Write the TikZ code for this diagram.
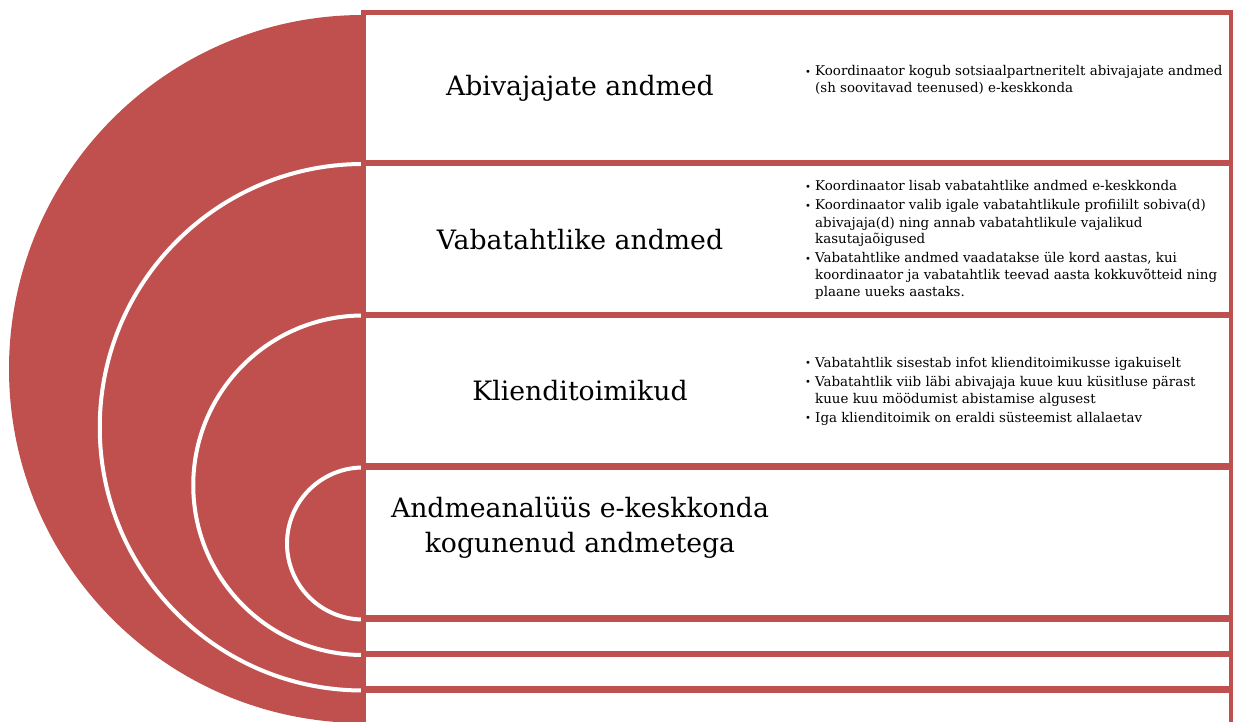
\documentclass[tikz,border=0pt]{standalone}
\usepackage{fontspec}
\setmainfont{DejaVu Serif}
\definecolor{accred}{HTML}{C0504D}
\newcommand{\bul}{\makebox[10pt][l]{\fontsize{10}{10}\selectfont\raisebox{0.5pt}{•}}}
\begin{document}
\begin{tikzpicture}[x=1pt,y=-1pt,
  stepbox/.style={draw=accred, fill=white, line width=4.5pt, inner sep=0pt, minimum width=867.75pt},
  bigbox/.style={stepbox, minimum height=150pt},
  smallbox/.style={stepbox, minimum height=33.5pt},
  ringfill/.style={fill=accred},
  ringline/.style={draw=white, line width=4pt},
  title/.style={font=\fontsize{26.7}{35}\selectfont, align=center, inner sep=0pt},
  bullets/.style={font=\fontsize{13.4}{17}\selectfont, anchor=base west, inner sep=0pt}
]
\path[use as bounding box, clip] (0,0) rectangle (1242,722);
% outer disc
\fill[accred] (363,15) arc[start angle=270, end angle=90, radius=354] -- cycle;
% rings
\fill[ringfill] (363,164) arc[start angle=270, end angle=90, radius=263.25] -- cycle;
\draw[ringline] (363,164) arc[start angle=270, end angle=90, radius=263.25];
\fill[ringfill] (363,315.5) arc[start angle=270, end angle=90, radius=169.75] -- cycle;
\draw[ringline] (363,315.5) arc[start angle=270, end angle=90, radius=169.75];
\fill[ringfill] (363,467.5) arc[start angle=270, end angle=90, radius=76] -- cycle;
\draw[ringline] (363,467.5) arc[start angle=270, end angle=90, radius=76];
% boxes
\node[bigbox] (b1) at (797.125,87.5) {};
\node[bigbox] (b2) at (797.125,239) {};
\node[bigbox] (b3) at (797.125,390.5) {};
\node[bigbox] (b4) at (797.125,542.5) {};
\node[smallbox] (b5) at (797.125,636.25) {};
\node[smallbox] (b6) at (797.125,671.75) {};
\node[bigbox] (b7) at (797.125,765.5) {};
% titles
\node[title] (t1) at (580,88) {Abivajajate andmed};
\node[title] (t2) at (580,240) {Vabatahtlike andmed};
\node[title] (t3) at (580,391) {Klienditoimikud};
\node[title] (t4) at (580,528) {Andmeanalüüs e-keskkonda\\kogunenud andmetega};
% bullets
\node[bullets] (l1) at (805,76) {\begin{tabular}[t]{@{}l@{}l@{}}
\bul & Koordinaator kogub sotsiaalpartneritelt abivajajate andmed\\
 & (sh soovitavad teenused) e-keskkonda
\end{tabular}};
\node[bullets] (l2) at (805,191) {\begin{tabular}[t]{@{}l@{}l@{}}
\bul & Koordinaator lisab vabatahtlike andmed e-keskkonda\\[2pt]
\bul & Koordinaator valib igale vabatahtlikule profiililt sobiva(d)\\
 & abivajaja(d) ning annab vabatahtlikule vajalikud\\
 & kasutajaõigused\\[2pt]
\bul & Vabatahtlike andmed vaadatakse üle kord aastas, kui\\
 & koordinaator ja vabatahtlik teevad aasta kokkuvõtteid ning\\
 & plaane uueks aastaks.
\end{tabular}};
\node[bullets] (l3) at (805,367) {\begin{tabular}[t]{@{}l@{}l@{}}
\bul & Vabatahtlik sisestab infot klienditoimikusse igakuiselt\\[2pt]
\bul & Vabatahtlik viib läbi abivajaja kuue kuu küsitluse pärast\\
 & kuue kuu möödumist abistamise algusest\\[2pt]
\bul & Iga klienditoimik on eraldi süsteemist allalaetav
\end{tabular}};
\end{tikzpicture}
\end{document}
